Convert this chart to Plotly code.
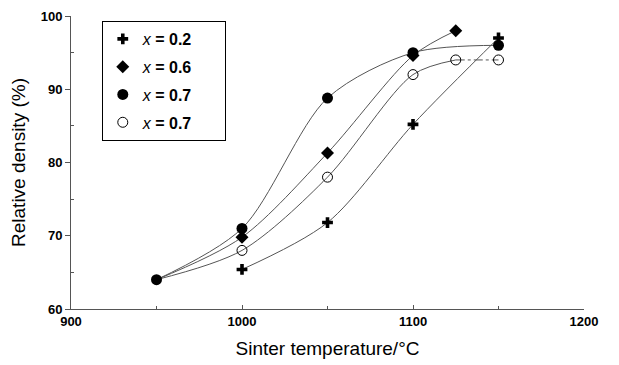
import plotly.graph_objects as go

# Data
temp_02 = [1000, 1050, 1100, 1150]
dens_02 = [65.4, 71.8, 85.2, 97.0]

temp_06 = [950, 1000, 1050, 1100, 1125]
dens_06 = [64.0, 69.8, 81.3, 94.6, 98.0]

temp_07f = [950, 1000, 1050, 1100, 1150]
dens_07f = [64.0, 71.0, 88.8, 95.0, 96.0]

temp_07o = [950, 1000, 1050, 1100, 1125, 1150]
dens_07o = [64.0, 68.0, 78.0, 92.0, 94.0, 94.0]

pad = "&nbsp;" * 6
labels = ["<i>x</i> <b>= 0.2</b>" + pad, "<i>x</i> <b>= 0.6</b>" + pad,
          "<i>x</i> <b>= 0.7</b>" + pad, "<i>x</i> <b>= 0.7</b>" + pad]

LINE = dict(color="#555555", width=1, shape="spline", smoothing=0.85)
fig = go.Figure()

# open circles (solid curve up to 1125, dash-dot to 1150)
fig.add_trace(go.Scatter(x=temp_07o[:5], y=dens_07o[:5], mode="lines", line=LINE,
                         showlegend=False, hoverinfo="skip"))
fig.add_trace(go.Scatter(x=temp_07o[4:], y=dens_07o[4:], mode="lines",
                         line=dict(color="#555555", width=1, dash="dashdot"),
                         showlegend=False, hoverinfo="skip"))
# diamonds
fig.add_trace(go.Scatter(x=temp_06, y=dens_06, mode="lines", line=LINE,
                         showlegend=False, hoverinfo="skip"))
# crosses
fig.add_trace(go.Scatter(x=temp_02, y=dens_02, mode="lines", line=LINE,
                         showlegend=False, hoverinfo="skip"))
# filled circles
fig.add_trace(go.Scatter(x=temp_07f, y=dens_07f, mode="lines", line=LINE,
                         showlegend=False, hoverinfo="skip"))

# markers (legend order)
fig.add_trace(go.Scatter(x=temp_02, y=dens_02, mode="markers", name=labels[0], legendgroup="a",
                         marker=dict(symbol="cross", size=9, color="black")))
fig.add_trace(go.Scatter(x=temp_06[1:], y=dens_06[1:], mode="markers", name=labels[1], legendgroup="b",
                         marker=dict(symbol="diamond", size=10, color="black")))
fig.add_trace(go.Scatter(x=temp_07f, y=dens_07f, mode="markers", name=labels[2], legendgroup="c",
                         marker=dict(symbol="circle", size=11, color="black")))
fig.add_trace(go.Scatter(x=temp_07o[1:], y=dens_07o[1:], mode="markers", name=labels[3], legendgroup="d",
                         marker=dict(symbol="circle-open", size=10, color="black", line=dict(width=1))))

fig.update_layout(
    width=619, height=365,
    margin=dict(l=71, r=35, t=16, b=56),
    paper_bgcolor="white", plot_bgcolor="white",
    font=dict(family="Liberation Sans, Arial, sans-serif", color="black"),
    legend=dict(x=0.06, y=0.983, xanchor="left", yanchor="top",
                bordercolor="black", borderwidth=1, bgcolor="white",
                font=dict(size=16), tracegroupgap=4,
                traceorder="grouped"),
    xaxis=dict(range=[900, 1200], tickvals=[900, 1000, 1100, 1200], automargin=False,
               showgrid=False, zeroline=False, showline=True, linecolor="#555555", linewidth=1,
               ticks="inside", ticklen=4, tickcolor="#555555",
               minor=dict(tickvals=[950, 1050, 1150], ticks="inside", ticklen=3, tickcolor="#555555"),
               tickfont=dict(size=13, family="Liberation Sans, Arial", weight="bold"),
               title=dict(text="Sinter temperature/°C", font=dict(size=19), standoff=14)),
    yaxis=dict(range=[60, 100], tickvals=[60, 70, 80, 90, 100], automargin=False,
               showgrid=False, zeroline=False, showline=True, linecolor="#555555", linewidth=1,
               ticks="outside", ticklen=5, tickcolor="#555555",
               minor=dict(tickvals=[65, 75, 85, 95], ticks="inside", ticklen=3, tickcolor="#555555"),
               tickfont=dict(size=13, family="Liberation Sans, Arial", weight="bold"),
               title=dict(text="Relative density (%)", font=dict(size=19), standoff=10)),
)

fig.write_html("out.html")
